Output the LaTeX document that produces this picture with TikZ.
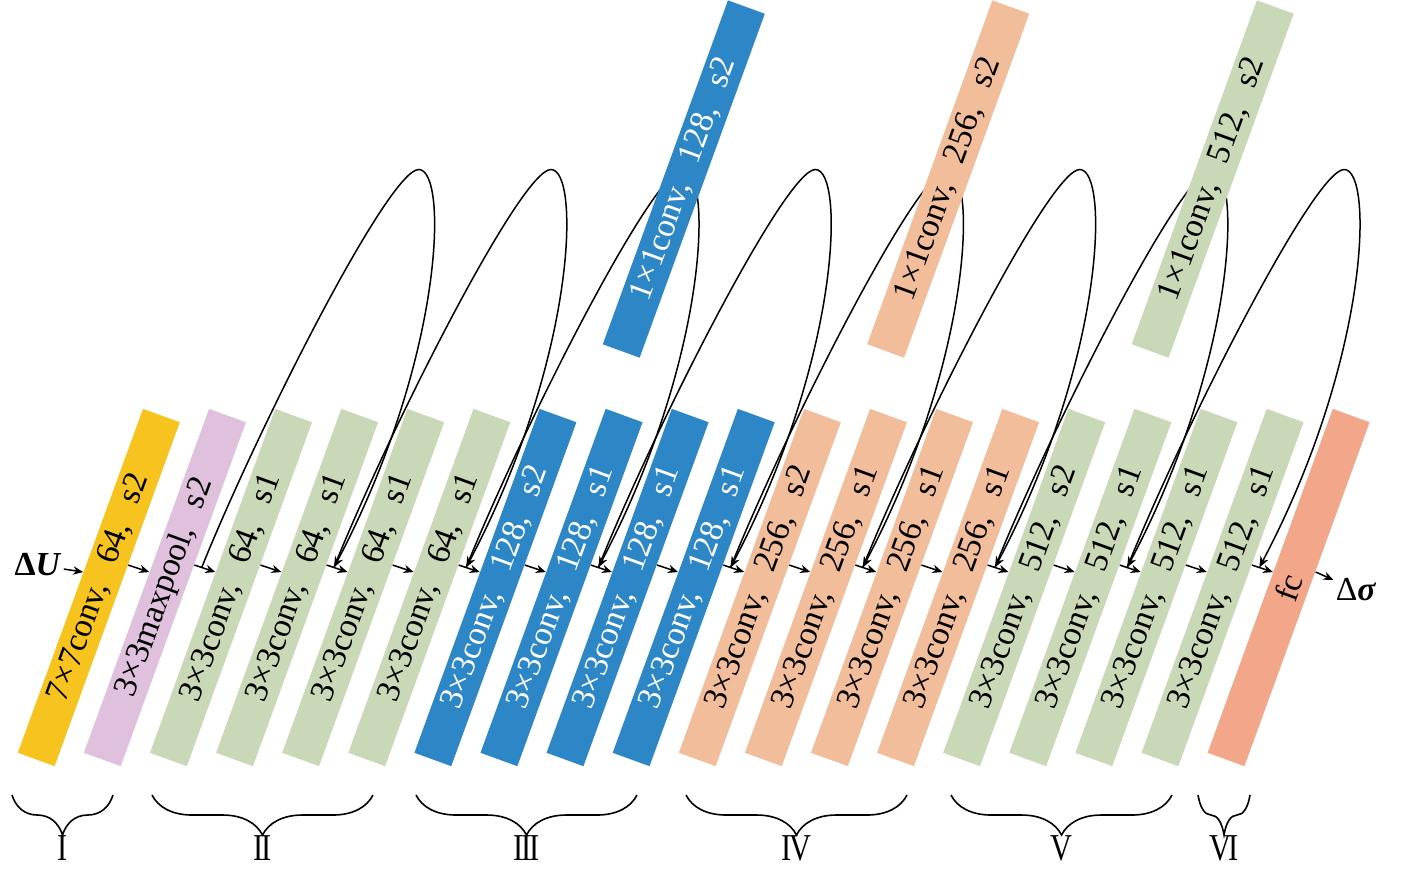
\documentclass[tikz,border=0pt]{standalone}
\usepackage{fontspec}
\usepackage{graphicx}
\setmainfont{Liberation Serif}
\usetikzlibrary{calc,arrows.meta,decorations.pathreplacing}

\definecolor{cyel}{HTML}{F7C31F}
\definecolor{cpnk}{HTML}{E0C1DD}
\definecolor{cgrn}{HTML}{C9D8B6}
\definecolor{cblu}{HTML}{2D87C7}
\definecolor{corg}{HTML}{F2BD9B}
\definecolor{cfc}{HTML}{F2A78A}

\newcommand{\gap}{\hspace{0.65em}}

\begin{document}
\begin{tikzpicture}[x=0.5pt,y=-0.5pt]
	\tikzset{bar/.style={rotate=70, minimum width=183pt, minimum height=19.6pt, inner sep=0pt, font=\fontsize{16.8}{19}\selectfont}};
	\tikzset{arr/.style={-{Stealth[length=5pt,width=4.2pt]}, line width=0.75pt}};
	\tikzset{skip/.style={-{Stealth[length=5.5pt,width=4.4pt]}, line width=0.75pt}};
	\tikzset{brc/.style={decorate, decoration={brace, mirror, amplitude=20pt}, line width=0.8pt}};
	\tikzset{lab/.style={font=\fontsize{19}{22}\selectfont, inner sep=0pt}};

	\useasboundingbox (0,0) rectangle (1411,890);

	% bottom row
	\node[bar, fill=cyel] (b1) at (98.8, 587.5) {7×7conv,\gap 64,\gap s2};
	\node[bar, fill=cpnk] (b2) at (164.9, 587.5) {3×3maxpool,\gap s2};
	\node[bar, fill=cgrn] (b3) at (231.0, 587.5) {3×3conv,\gap 64,\gap s1};
	\node[bar, fill=cgrn] (b4) at (297.1, 587.5) {3×3conv,\gap 64,\gap s1};
	\node[bar, fill=cgrn] (b5) at (363.2, 587.5) {3×3conv,\gap 64,\gap s1};
	\node[bar, fill=cgrn] (b6) at (429.3, 587.5) {3×3conv,\gap 64,\gap s1};
	\node[bar, fill=cblu, text=white] (b7) at (495.4, 587.5) {3×3conv,\gap 128,\gap s2};
	\node[bar, fill=cblu, text=white] (b8) at (561.5, 587.5) {3×3conv,\gap 128,\gap s1};
	\node[bar, fill=cblu, text=white] (b9) at (627.6, 587.5) {3×3conv,\gap 128,\gap s1};
	\node[bar, fill=cblu, text=white] (b10) at (693.7, 587.5) {3×3conv,\gap 128,\gap s1};
	\node[bar, fill=corg] (b11) at (759.8, 587.5) {3×3conv,\gap 256,\gap s2};
	\node[bar, fill=corg] (b12) at (825.9, 587.5) {3×3conv,\gap 256,\gap s1};
	\node[bar, fill=corg] (b13) at (892.0, 587.5) {3×3conv,\gap 256,\gap s1};
	\node[bar, fill=corg] (b14) at (958.1, 587.5) {3×3conv,\gap 256,\gap s1};
	\node[bar, fill=cgrn] (b15) at (1024.2, 587.5) {3×3conv,\gap 512,\gap s2};
	\node[bar, fill=cgrn] (b16) at (1090.3, 587.5) {3×3conv,\gap 512,\gap s1};
	\node[bar, fill=cgrn] (b17) at (1156.4, 587.5) {3×3conv,\gap 512,\gap s1};
	\node[bar, fill=cgrn] (b18) at (1222.5, 587.5) {3×3conv,\gap 512,\gap s1};
	\node[bar, fill=cfc] (b19) at (1288.6, 587.5) {fc};

	\node[font=\fontsize{16.8}{19}\selectfont, inner sep=1pt] (du) at (38, 565) {\textbf{Δ\textit{U}}};
	\node[font=\fontsize{16.8}{19}\selectfont, inner sep=1pt] (ds) at (1356, 590) {Δ\textbf{\textit{σ}}};

	% main path
	\draw[arr] (du) -- ($(b1.north)!.05!(b1.north east)$);
	\draw[arr] ($(b1.south)!.17!(b1.south east)$) -- ($(b2.north)!.05!(b2.north east)$);
	\draw[arr] ($(b2.south)!.17!(b2.south east)$) -- coordinate[pos=.35] (j2) ($(b3.north)!.05!(b3.north east)$);
	\draw[arr] ($(b3.south)!.17!(b3.south east)$) -- ($(b4.north)!.05!(b4.north east)$);
	\draw[arr] ($(b4.south)!.17!(b4.south east)$) -- coordinate[pos=.35] (j4) ($(b5.north)!.05!(b5.north east)$);
	\draw[arr] ($(b5.south)!.17!(b5.south east)$) -- ($(b6.north)!.05!(b6.north east)$);
	\draw[arr] ($(b6.south)!.17!(b6.south east)$) -- coordinate[pos=.35] (j6) ($(b7.north)!.05!(b7.north east)$);
	\draw[arr] ($(b7.south)!.17!(b7.south east)$) -- ($(b8.north)!.05!(b8.north east)$);
	\draw[arr] ($(b8.south)!.17!(b8.south east)$) -- coordinate[pos=.35] (j8) ($(b9.north)!.05!(b9.north east)$);
	\draw[arr] ($(b9.south)!.17!(b9.south east)$) -- ($(b10.north)!.05!(b10.north east)$);
	\draw[arr] ($(b10.south)!.17!(b10.south east)$) -- coordinate[pos=.35] (j10) ($(b11.north)!.05!(b11.north east)$);
	\draw[arr] ($(b11.south)!.17!(b11.south east)$) -- ($(b12.north)!.05!(b12.north east)$);
	\draw[arr] ($(b12.south)!.17!(b12.south east)$) -- coordinate[pos=.35] (j12) ($(b13.north)!.05!(b13.north east)$);
	\draw[arr] ($(b13.south)!.17!(b13.south east)$) -- ($(b14.north)!.05!(b14.north east)$);
	\draw[arr] ($(b14.south)!.17!(b14.south east)$) -- coordinate[pos=.35] (j14) ($(b15.north)!.05!(b15.north east)$);
	\draw[arr] ($(b15.south)!.17!(b15.south east)$) -- ($(b16.north)!.05!(b16.north east)$);
	\draw[arr] ($(b16.south)!.17!(b16.south east)$) -- coordinate[pos=.35] (j16) ($(b17.north)!.05!(b17.north east)$);
	\draw[arr] ($(b17.south)!.17!(b17.south east)$) -- ($(b18.north)!.05!(b18.north east)$);
	\draw[arr] ($(b18.south)!.17!(b18.south east)$) -- coordinate[pos=.35] (j18) ($(b19.north)!.05!(b19.north east)$);
	\draw[arr] ($(b19.south)!.13!(b19.south east)$) -- (ds);

	% shortcuts
	\draw[skip] (j2) .. controls +(56,-139) and +(-30,0) .. ++(217,-398) .. controls +(30,0) and +(110,-208) .. (j4);
	\draw[skip] (j4) .. controls +(56,-139) and +(-30,0) .. ++(217,-398) .. controls +(30,0) and +(110,-208) .. (j6);
	\draw[skip] (j6) .. controls +(56,-139) and +(-30,0) .. ++(217,-398) .. controls +(30,0) and +(110,-208) .. (j8);
	\draw[skip] (j8) .. controls +(56,-139) and +(-30,0) .. ++(217,-398) .. controls +(30,0) and +(110,-208) .. (j10);
	\draw[skip] (j10) .. controls +(56,-139) and +(-30,0) .. ++(217,-398) .. controls +(30,0) and +(110,-208) .. (j12);
	\draw[skip] (j12) .. controls +(56,-139) and +(-30,0) .. ++(217,-398) .. controls +(30,0) and +(110,-208) .. (j14);
	\draw[skip] (j14) .. controls +(56,-139) and +(-30,0) .. ++(217,-398) .. controls +(30,0) and +(110,-208) .. (j16);
	\draw[skip] (j16) .. controls +(56,-139) and +(-30,0) .. ++(217,-398) .. controls +(30,0) and +(110,-208) .. (j18);

	% projection blocks
	\node[bar, fill=cblu, text=white] (t1) at (683.8, 179) {1×1conv,\gap 128,\gap s2};
	\node[bar, fill=corg] (t2) at (948.2, 179) {1×1conv,\gap 256,\gap s2};
	\node[bar, fill=cgrn] (t3) at (1212.7, 179) {1×1conv,\gap 512,\gap s2};

	% stages
	\draw[brc] (12, 795) -- (113, 795) node[lab, midway, below=20pt] (g1) {\scalebox{0.8}[1]{I}};
	\draw[brc] (152, 795) -- (373, 795) node[lab, midway, below=20pt] (g2) {\scalebox{0.8}[1]{I\kern-1.5pt I}};
	\draw[brc] (416, 795) -- (637, 795) node[lab, midway, below=20pt] (g3) {\scalebox{0.8}[1]{I\kern-1.5pt I\kern-1.5pt I}};
	\draw[brc] (686, 795) -- (907, 795) node[lab, midway, below=20pt] (g4) {\scalebox{0.8}[1]{I\kern-1.5pt V}};
	\draw[brc] (951, 795) -- (1172, 795) node[lab, midway, below=20pt] (g5) {\scalebox{0.8}[1]{V}};
	\draw[brc] (1198, 795) -- (1250, 795) node[lab, midway, below=20pt] (g6) {\scalebox{0.8}[1]{V\kern-1.5pt I}};

\end{tikzpicture}
\end{document}
